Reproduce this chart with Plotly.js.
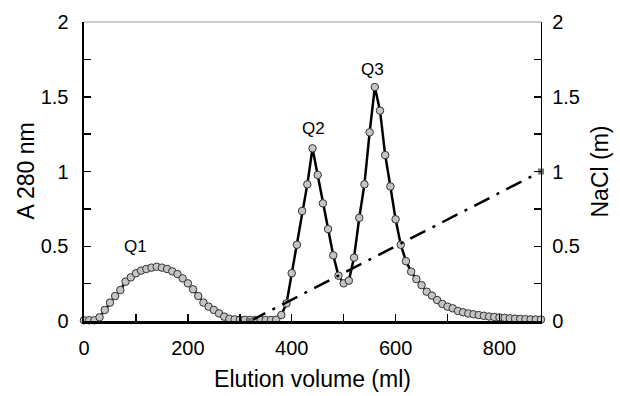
<!DOCTYPE html>
<html>
<head>
<meta charset="utf-8">
<script src="https://cdn.plot.ly/plotly-3.0.1.min.js"></script>
<style>html,body{margin:0;padding:0;background:#fff;}#chart{width:620px;height:396px;}</style>
</head>
<body>
<div id="chart"></div>
<script>
// Elution volume of each fraction (ml)
const volume = [0,10,20,30,40,50,60,70,80,90,100,110,120,130,140,150,160,170,180,190,
  200,210,220,230,240,250,260,270,280,290,300,310,320,330,340,350,360,370,380,390,
  400,410,420,430,440,450,460,470,480,490,500,510,520,530,540,550,560,570,580,590,
  600,610,620,630,640,650,660,670,680,690,700,710,720,730,740,750,760,770,780,790,
  800,810,820,830,840,850,860,870,880];
// Absorbance at 280 nm
const a280 = [0.005,0.005,0.005,0.025,0.074,0.123,0.167,0.207,0.263,0.292,
  0.319,0.337,0.348,0.357,0.363,0.357,0.348,0.332,0.314,0.285,
  0.252,0.212,0.167,0.123,0.096,0.074,0.051,0.029,0.015,0.011,
  0.008,0.008,0.007,0.007,0.007,0.007,0.007,0.008,0.04,0.118,
  0.32,0.51,0.736,0.914,1.155,0.977,0.787,0.615,0.439,0.303,
  0.252,0.27,0.424,0.69,0.914,1.262,1.565,1.407,1.11,0.90,
  0.68,0.51,0.40,0.33,0.28,0.24,0.196,0.17,0.14,0.114,
  0.096,0.085,0.067,0.058,0.05,0.045,0.04,0.035,0.03,0.027,
  0.024,0.021,0.018,0.016,0.014,0.012,0.011,0.01,0.01];
// NaCl gradient
const gradVolume = [320, 880];
const gradNaCl = [0, 1];
// Peak labels
const peakNames = ['Q1', 'Q2', 'Q3'];
const peakX = [100, 441, 555];
const peakY = [0.50, 1.29, 1.68];
// Ticks
const xTickVals = [0,100,200,300,400,500,600,700,800];
const xTickText = ['0','','200','','400','','600','','800'];
const yTickVals = [0,0.25,0.5,0.75,1,1.25,1.5,1.75,2];
const yTickText = ['0','','0.5','','1','','1.5','','2'];

const FONT = 'Arial, "Liberation Sans", sans-serif';

const traces = [
  {
    x: volume, y: a280, type: 'scatter', mode: 'lines+markers',
    line: {color: '#000', width: 2.5},
    marker: {symbol: 'circle', size: 7.5, color: '#c4c4c4', line: {color: '#333', width: 1}},
    cliponaxis: false, showlegend: false, xaxis: 'x', yaxis: 'y'
  },
  {
    x: gradVolume, y: gradNaCl, type: 'scatter', mode: 'lines+markers',
    line: {color: '#000', width: 2.5, dash: '17px,8px,3px,8px'},
    marker: {symbol: 'square', size: 6, color: '#777'},
    cliponaxis: false, showlegend: false, xaxis: 'x', yaxis: 'y2'
  }
];

const axisCommon = {
  showgrid: false, zeroline: false, showline: true, linecolor: '#000',
  ticks: 'inside', ticklen: 7, tickwidth: 1.5, tickcolor: '#000',
  tickfont: {family: FONT, size: 20, color: '#000'}, automargin: false
};

const layout = {
  width: 620, height: 396,
  margin: {l: 84, r: 79, t: 22, b: 75},
  paper_bgcolor: '#fff', plot_bgcolor: '#fff',
  font: {family: FONT, color: '#000'},
  xaxis: Object.assign({}, axisCommon, {
    range: [0, 880], linewidth: 2.5,
    tickmode: 'array', tickvals: xTickVals, ticktext: xTickText,
    ticklabelstandoff: 7,
    title: {text: 'Elution volume (ml)', font: {family: FONT, size: 23, color: '#000'}, standoff: 14}
  }),
  yaxis: Object.assign({}, axisCommon, {
    range: [0, 2], linewidth: 2.5,
    tickmode: 'array', tickvals: yTickVals, ticktext: yTickText,
    ticklabelstandoff: 9
  }),
  yaxis2: Object.assign({}, axisCommon, {
    range: [0, 2], linewidth: 1.2, overlaying: 'y', side: 'right',
    tickmode: 'array', tickvals: yTickVals, ticktext: yTickText,
    ticklabelstandoff: 6,
    title: {text: 'NaCl (m)', font: {family: FONT, size: 23, color: '#000'}, standoff: 12}
  }),
  shapes: [
    {type: 'line', xref: 'paper', yref: 'paper', x0: 0, x1: 1, y0: 1, y1: 1,
     line: {color: '#999', width: 1}}
  ],
  annotations: peakNames.map((t, i) => ({
    x: peakX[i], y: peakY[i], xref: 'x', yref: 'y', text: t, showarrow: false,
    font: {family: FONT, size: 17, color: '#000'}
  })).concat([{
    x: -0.129, y: 0.5, xref: 'paper', yref: 'paper', text: 'A 280 nm',
    textangle: -90, showarrow: false, xanchor: 'center', yanchor: 'middle',
    font: {family: FONT, size: 23, color: '#000'}
  }])
};

Plotly.newPlot('chart', traces, layout, {displayModeBar: false, staticPlot: true});
</script>
</body>
</html>
